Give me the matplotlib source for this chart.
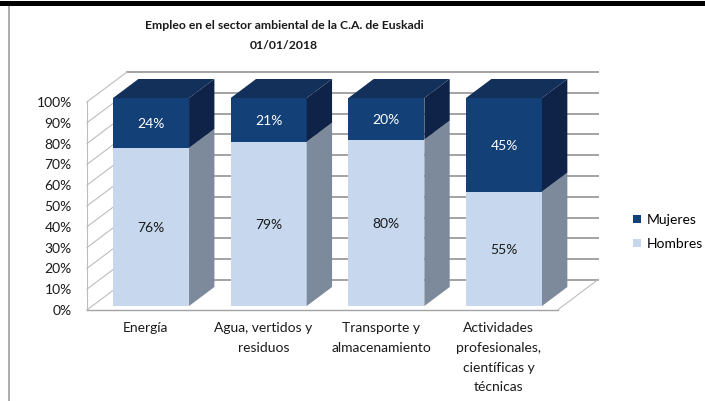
import matplotlib
matplotlib.use("Agg")
import matplotlib.pyplot as plt
from matplotlib.patches import Polygon, Patch, Rectangle
from matplotlib.lines import Line2D

# ---------------- data ----------------
categories = ["Energía", "Agua, vertidos y\nresiduos", "Transporte y\nalmacenamiento",
              "Actividades\nprofesionales,\ncientíficas y\ntécnicas"]
hombres = [76, 79, 80, 55]
mujeres = [24, 21, 20, 45]
ytick_values = [0, 10, 20, 30, 40, 50, 60, 70, 80, 90, 100]
series_names = ["Mujeres", "Hombres"]
title_text = "Empleo en el sector ambiental de la C.A. de Euskadi\n01/01/2018"

# ---------------- style ----------------
FONT = ["Lato", "DejaVu Sans"]
plt.rcParams["font.family"] = FONT
c_muj_front, c_muj_top, c_muj_side = "#134077", "#13305a", "#0f2349"
c_hom_front, c_hom_side = "#c6d7ee", "#7d8a9b"
grid_c = "#a3a3a3"

W, H = 705, 401
fig = plt.figure(figsize=(W / 100, H / 100), dpi=100)
fig.patch.set_facecolor("white")

left_px, right_px, bottom_px, top_px = 86.9, 557.5, 310, 102
ax = fig.add_axes([left_px / W, (H - bottom_px) / H, (right_px - left_px) / W, (bottom_px - top_px) / H])
ax.set_xlim(-0.5, 3.5)
ax.set_ylim(0, 100)
ax.patch.set_alpha(0)
for s in ax.spines.values():
    s.set_visible(False)

px_x = (right_px - left_px) / 4.0
px_y = (bottom_px - top_px) / 100.0


def depth(t):
    return (t * 40 / px_x, t * 30 / px_y)


dX, dY = depth(1.0)
fx, fy = depth(0.133)
bx, by = depth(0.767)

# walls and gridlines
for v in ytick_values:
    ax.add_line(Line2D([-0.5 + dX, 3.5 + dX], [v + dY, v + dY], color=grid_c, lw=1.4, zorder=1, clip_on=False))
    ax.add_line(Line2D([-0.5, -0.5 + dX], [v, v + dY], color="#bdbdbd", lw=0.8, zorder=1, clip_on=False))
ax.add_line(Line2D([-0.5, -0.5], [0, 100], color="#bdbdbd", lw=0.8, zorder=1, clip_on=False))
ax.add_line(Line2D([-0.5, 3.5], [0, 0], color=grid_c, lw=1.0, zorder=1, clip_on=False))
ax.add_line(Line2D([3.5, 3.5 + dX], [0, dY], color="#bdbdbd", lw=0.8, zorder=1, clip_on=False))

# bars
w = 76 / px_x
xs = list(range(len(categories)))
ax.bar([x + fx for x in xs], hombres, width=w, bottom=fy, color=c_hom_front, zorder=3, clip_on=False)
ax.bar([x + fx for x in xs], mujeres, width=w, bottom=[fy + h for h in hombres], color=c_muj_front,
       zorder=3, clip_on=False)

for x, h, m in zip(xs, hombres, mujeres):
    xl, xr = x - w / 2, x + w / 2
    tot = h + m
    ax.add_patch(Polygon([(xr + fx, fy), (xr + fx, h + fy), (xr + bx, h + by), (xr + bx, by)],
                         closed=True, facecolor=c_hom_side, edgecolor="none", zorder=3, clip_on=False))
    ax.add_patch(Polygon([(xr + fx, h + fy), (xr + fx, tot + fy), (xr + bx, tot + by), (xr + bx, h + by)],
                         closed=True, facecolor=c_muj_side, edgecolor="none", zorder=3, clip_on=False))
    ax.add_patch(Polygon([(xl + fx, tot + fy), (xr + fx, tot + fy), (xr + bx, tot + by), (xl + bx, tot + by)],
                         closed=True, facecolor=c_muj_top, edgecolor="none", zorder=3, clip_on=False))
    ax.text(x + fx, fy + h / 2 - 0.6, f"{h}%", ha="center", va="center", fontsize=10, color="#1a1a1a", zorder=5)
    ax.text(x + fx, fy + h + m / 2 - 0.6, f"{m}%", ha="center", va="center", fontsize=10, color="white", zorder=5)

# axes ticks
ax.set_yticks(ytick_values)
ax.set_yticklabels([f"{v}%" for v in ytick_values], fontsize=10, color="#1a1a1a")
ax.set_xticks(xs)
ax.set_xticklabels(categories, fontsize=10, color="#1a1a1a", linespacing=1.75, va="top")
ax.tick_params(axis="y", length=0, pad=11)
ax.tick_params(axis="x", length=0, pad=9)

# title
fig.text(284 / W, 1 - 20 / H, title_text, ha="center", va="top", fontsize=8.8, fontweight="bold",
         color="#1a1a1a", linespacing=2.05)

# legend
handles = [Patch(facecolor=c_muj_front), Patch(facecolor=c_hom_front)]
fig.legend(handles, series_names, loc="upper left", bbox_to_anchor=(633 / W, 1 - 214 / H),
           frameon=False, fontsize=10, handlelength=0.55, handleheight=0.55, handletextpad=0.45,
           labelspacing=0.85, borderpad=0, borderaxespad=0)

# chart border pieces
fig.patches.append(Rectangle((0, 1 - 6 / H), 1, 5 / H, transform=fig.transFigure, facecolor="black",
                             edgecolor="none", zorder=10))
fig.lines.append(Line2D([9 / W, 9 / W], [0, 1 - 6 / H], transform=fig.transFigure, color="#a0a0a0", lw=1.2))

fig.savefig("out.png", dpi=100)
